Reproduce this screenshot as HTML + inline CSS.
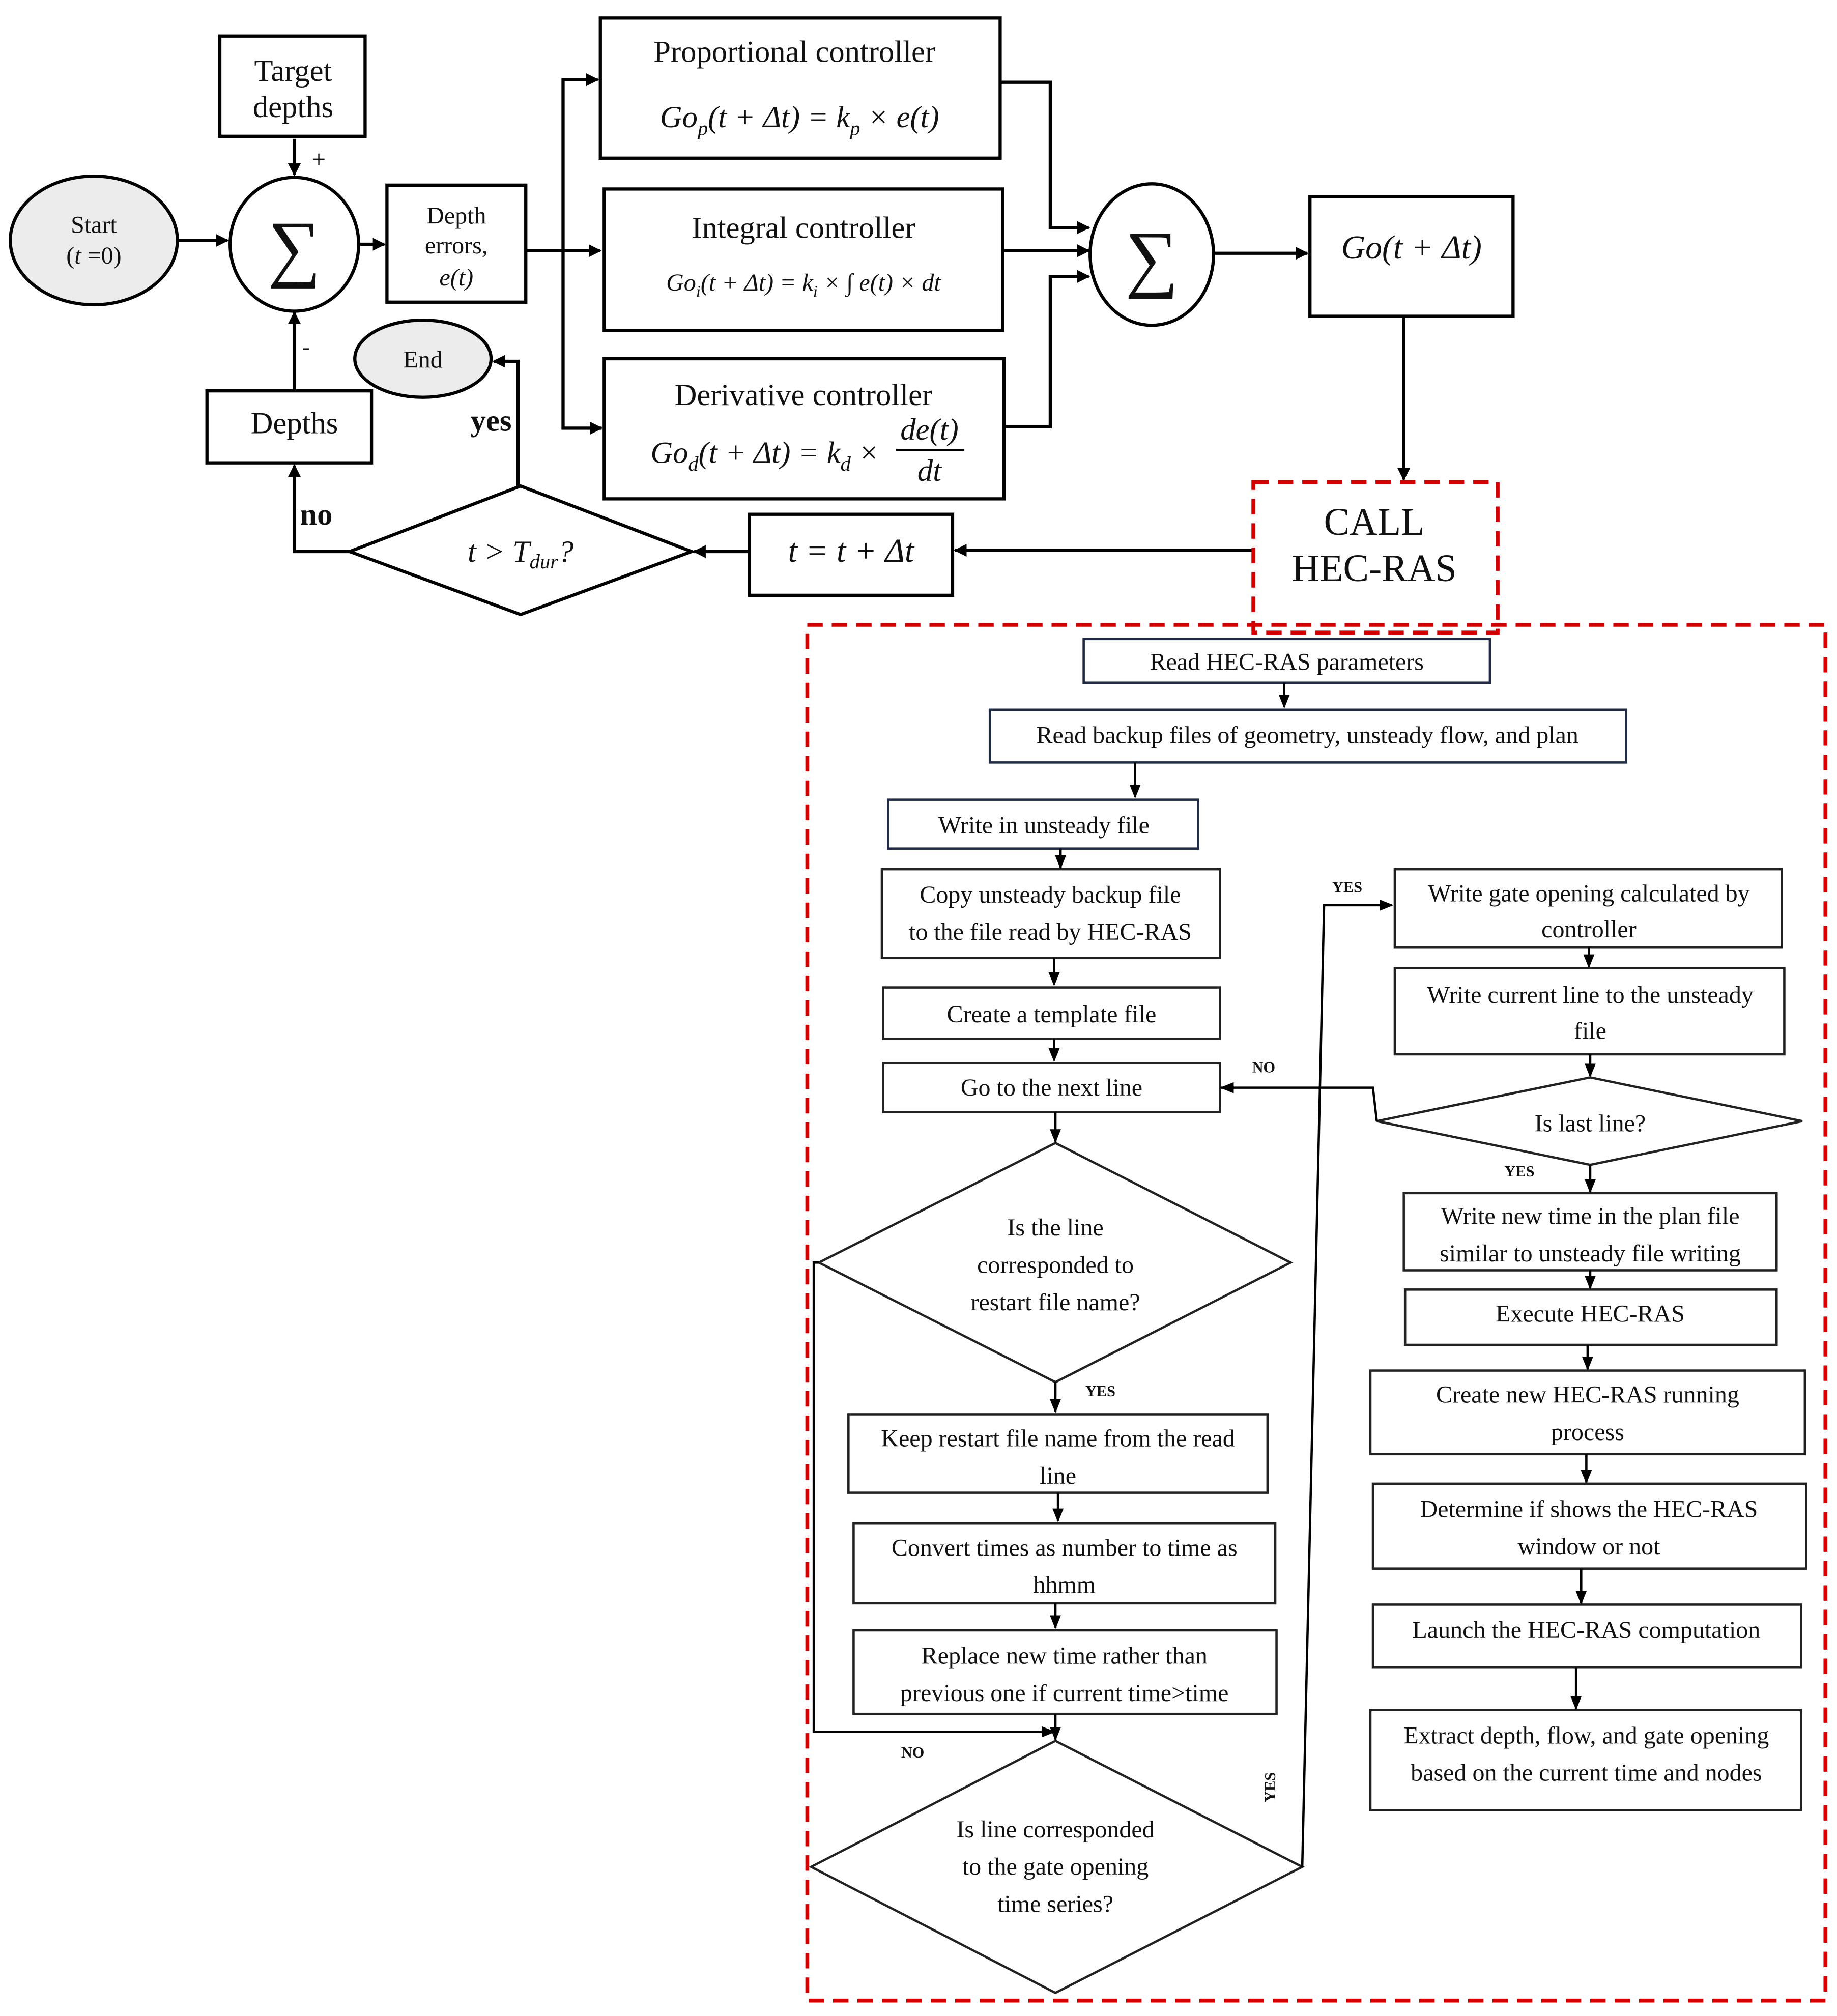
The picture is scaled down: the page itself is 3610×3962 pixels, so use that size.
<!DOCTYPE html>
<html><head><meta charset="utf-8"><style>
html,body{margin:0;padding:0;background:#fff;}
svg{display:block;}
text{font-family:"Liberation Serif",serif;fill:#111;}
.m{font-style:italic;}
</style></head><body>
<svg width="3610" height="3962" viewBox="0 0 1429 1568" preserveAspectRatio="none" xmlns="http://www.w3.org/2000/svg">
<defs>
<marker id="a" viewBox="0 0 10 10" refX="9" refY="5" markerWidth="4" markerHeight="4" orient="auto-start-reverse"><path d="M0,0L10,5L0,10z" fill="#000"/></marker>
<marker id="s" viewBox="0 0 10 10" refX="9" refY="5" markerWidth="6" markerHeight="6" orient="auto-start-reverse"><path d="M0,1L10,5L0,9z" fill="#000"/></marker>
</defs>
<rect width="1440" height="1580" fill="#fff"/>
<g fill="none" stroke="#000" stroke-width="2.5">
<ellipse cx="73" cy="187" rx="65" ry="50" fill="#ececec"/>
<ellipse cx="229" cy="190" rx="50" ry="52"/>
<rect x="171" y="28" width="113" height="78"/>
<rect x="301" y="144" width="108" height="91"/>
<rect x="467" y="14" width="311" height="109"/>
<rect x="470" y="147" width="310" height="110"/>
<rect x="470" y="279" width="311" height="109"/>
<ellipse cx="896" cy="198" rx="48" ry="55"/>
<rect x="1019" y="153" width="158" height="93"/>
<rect x="583" y="400" width="158" height="63"/>
<polygon points="272,429 405,378 538,429 405,478"/>
<rect x="161" y="304" width="128" height="56"/>
<ellipse cx="329" cy="279" rx="53" ry="30" fill="#ececec"/>
</g>
<g fill="none" stroke="#000" stroke-width="2.5" marker-end="url(#a)">
<path d="M229,108V136"/>
<path d="M138,187H177"/>
<path d="M279,190H299"/>
<path d="M409,195H467"/>
<path d="M438,195V62H465"/>
<path d="M438,195V333H468"/>
<path d="M778,64H817V177H847"/>
<path d="M780,195H847"/>
<path d="M781,332H817V215H847"/>
<path d="M944,197H1017"/>
<path d="M1092,246V373"/>
<path d="M975,428H743"/>
<path d="M583,429H540"/>
<path d="M272,429H229V362"/>
<path d="M229,304V243"/>
<path d="M403,378V281H384"/>
</g>
<rect x="975" y="375" width="190" height="117" fill="none" stroke="#d40000" stroke-width="3" stroke-dasharray="12,7"/>
<rect x="628" y="486" width="792" height="1070" fill="none" stroke="#d40000" stroke-width="3" stroke-dasharray="12,7"/>
<g font-size="24" text-anchor="middle">
<text x="73" y="181" font-size="19">Start</text>
<text x="73" y="205" font-size="19">(<tspan class="m">t</tspan> =0)</text>
<text x="229" y="212" font-size="58">∑</text>
<text x="896" y="220" font-size="58">∑</text>
<text x="228" y="63">Target</text><text x="228" y="91">depths</text>
<text x="355" y="174" font-size="19">Depth</text>
<text x="355" y="197" font-size="19">errors,</text>
<text x="355" y="222" font-size="19" class="m">e(t)</text>
<text x="618" y="48">Proportional controller</text>
<text x="622" y="99" class="m">Go<tspan font-size="16" dy="6">p</tspan><tspan dy="-6">(t + Δt) = k</tspan><tspan font-size="16" dy="6">p</tspan><tspan dy="-6"> × e(t)</tspan></text>
<text x="625" y="185">Integral controller</text>
<text x="625" y="226" font-size="19" class="m">Go<tspan font-size="13" dy="5">i</tspan><tspan dy="-5">(t + Δt) = k</tspan><tspan font-size="13" dy="5">i</tspan><tspan dy="-5"> × ∫ e(t) × dt</tspan></text>
<text x="625" y="315">Derivative controller</text>
<text x="595" y="360" class="m">Go<tspan font-size="16" dy="6">d</tspan><tspan dy="-6">(t + Δt) = k</tspan><tspan font-size="16" dy="6">d</tspan><tspan dy="-6"> ×</tspan></text>
<text x="723" y="342" class="m">de(t)</text>
<line x1="697" y1="350" x2="750" y2="350" stroke="#000" stroke-width="1.5"/>
<text x="723" y="374" class="m">dt</text>
<text x="1098" y="201" class="m" font-size="26">Go(t + Δt)</text>
<text x="1069" y="416" font-size="30">CALL</text>
<text x="1069" y="452" font-size="30">HEC-RAS</text>
<text x="662" y="437" class="m" font-size="26">t = t + Δt</text>
<text x="405" y="437" class="m">t &gt; T<tspan font-size="16" dy="5">dur</tspan><tspan dy="-5">?</tspan></text>
<text x="229" y="337">Depths</text>
<text x="329" y="286" font-size="19">End</text>
<text x="248" y="130" font-size="19">+</text>
<text x="238" y="276" font-size="19">-</text>
<text x="246" y="408" font-weight="bold">no</text>
<text x="382" y="335" font-weight="bold">yes</text>
</g>
<g fill="none" stroke="#1f2a44" stroke-width="1.8">
<rect x="843" y="497" width="316" height="34"/>
<rect x="770" y="552" width="495" height="41"/>
<rect x="691" y="622" width="241" height="38"/>
</g>
<g fill="none" stroke="#222" stroke-width="1.8">
<rect x="686" y="676" width="263" height="69"/>
<rect x="687" y="768" width="262" height="40"/>
<rect x="687" y="827" width="262" height="38"/>
<polygon points="821,889 1004,982 821,1075 637,982"/>
<rect x="660" y="1100" width="326" height="61"/>
<rect x="664" y="1185" width="328" height="62"/>
<rect x="664" y="1268" width="329" height="65"/>
<polygon points="821,1354 1013,1452 821,1550 631,1452"/>
<rect x="1085" y="676" width="301" height="61"/>
<rect x="1085" y="753" width="303" height="67"/>
<polygon points="1237,838 1402,872 1237,906 1071,872"/>
<rect x="1092" y="928" width="290" height="60"/>
<rect x="1093" y="1003" width="289" height="43"/>
<rect x="1066" y="1066" width="338" height="65"/>
<rect x="1068" y="1154" width="337" height="66"/>
<rect x="1068" y="1248" width="333" height="49"/>
<rect x="1066" y="1330" width="335" height="78"/>
</g>
<g fill="none" stroke="#000" stroke-width="1.8" marker-end="url(#s)">
<path d="M999,531V550"/><path d="M883,593V620"/><path d="M825,660V675"/>
<path d="M820,745V766"/><path d="M820,808V825"/><path d="M821,865V888"/>
<path d="M821,1075V1098"/><path d="M823,1161V1183"/><path d="M821,1247V1266"/>
<path d="M821,1333V1353"/>
<path d="M637,982H633V1347H820"/>
<path d="M1013,1452L1030,704H1083"/>
<path d="M1236,737V752"/><path d="M1237,820V837"/>
<path d="M1071,872L1068,846H950"/>
<path d="M1237,906V927"/><path d="M1237,988V1002"/><path d="M1235,1046V1065"/>
<path d="M1234,1131V1153"/><path d="M1230,1220V1247"/><path d="M1226,1297V1329"/>
</g>
<g font-size="19" text-anchor="middle">
<text x="1001" y="521">Read HEC-RAS parameters</text>
<text x="1017" y="578">Read backup files of geometry, unsteady flow, and plan</text>
<text x="812" y="648">Write in unsteady file</text>
<text x="817" y="702">Copy unsteady backup file</text>
<text x="817" y="731">to the file read by HEC-RAS</text>
<text x="818" y="795">Create a template file</text>
<text x="818" y="852">Go to the next line</text>
<text x="821" y="961">Is the line</text>
<text x="821" y="990">corresponded to</text>
<text x="821" y="1019">restart file name?</text>
<text x="823" y="1125">Keep restart file name from the read</text>
<text x="823" y="1154">line</text>
<text x="828" y="1210">Convert times as number to time as</text>
<text x="828" y="1239">hhmm</text>
<text x="828" y="1294">Replace new time rather than</text>
<text x="828" y="1323">previous one if current time&gt;time</text>
<text x="821" y="1429">Is line corresponded</text>
<text x="821" y="1458">to the gate opening</text>
<text x="821" y="1487">time series?</text>
<text x="1236" y="701">Write gate opening calculated by</text>
<text x="1236" y="729">controller</text>
<text x="1237" y="780">Write current line to the unsteady</text>
<text x="1237" y="808">file</text>
<text x="1237" y="880">Is last line?</text>
<text x="1237" y="952">Write new time in the plan file</text>
<text x="1237" y="981">similar to unsteady file writing</text>
<text x="1237" y="1028">Execute HEC-RAS</text>
<text x="1235" y="1091">Create new HEC-RAS running</text>
<text x="1235" y="1120">process</text>
<text x="1236" y="1180">Determine if shows the HEC-RAS</text>
<text x="1236" y="1209">window or not</text>
<text x="1234" y="1274">Launch the HEC-RAS computation</text>
<text x="1234" y="1356">Extract depth, flow, and gate opening</text>
<text x="1234" y="1385">based on the current time and nodes</text>
<g font-size="12" font-weight="bold">
<text x="856" y="1086">YES</text>
<text x="710" y="1367">NO</text>
<text x="1048" y="694">YES</text>
<text x="983" y="834">NO</text>
<text x="1182" y="915">YES</text>
<text x="0" y="0" transform="translate(992,1390) rotate(-90)">YES</text>
</g>
</g>
</svg>
</body></html>
